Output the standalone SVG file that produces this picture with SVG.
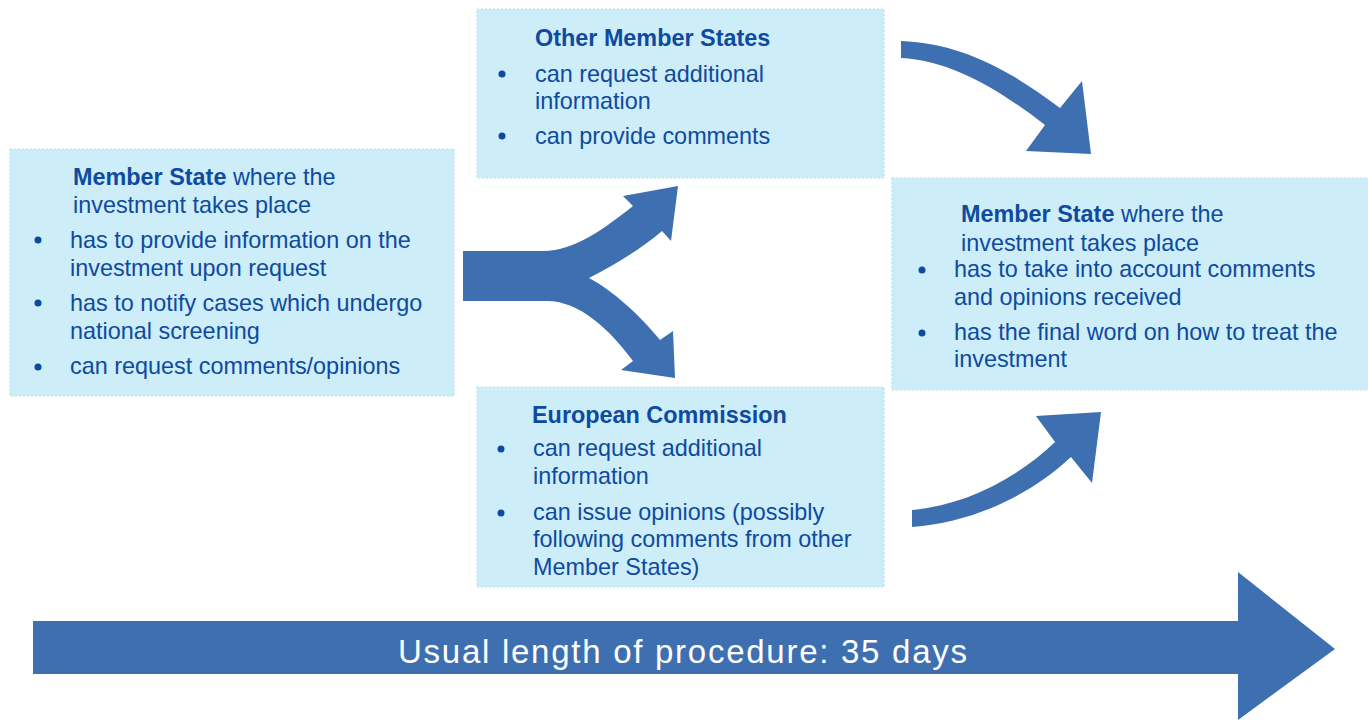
<svg xmlns="http://www.w3.org/2000/svg" width="1368" height="721" viewBox="0 0 1368 721">
<style>
.box{fill:#CDEDF9;stroke:#B5DFF1;stroke-width:1.2;stroke-dasharray:2 2}
.t{font-family:"Liberation Sans",Arial,sans-serif;font-size:23.4px;fill:#0E4AA0}
.b{font-weight:bold}
.dot{fill:#0E4AA0}
.arr{fill:#3D6FB1}
.lbl{font-family:"Liberation Sans",Arial,sans-serif;font-size:33px;fill:#FFFFFF}
</style>
<rect width="1368" height="721" fill="#FFFFFF"/>
<g id="connectors">
<path class="arr" d="M463,251 L543,251 C575,251 605,228 633,206 L623,196 L678,186 L671,241 L662,231 C640,250 612,266 589,278 C612,290 640,315 660,340 L673,331 L675,378 L621,370 L633,361 C610,330 580,301 547,301 L463,301 Z"/>
<path class="arr" d="M901,41 C960,43 1010,70 1060,108 L1082,81 L1091,154 L1026,151 L1045,125 C1000,90 950,60 901,58 Z"/>
<path class="arr" d="M912,510 C965,505 1015,480 1055,442 L1036,416 L1101,412 L1092,483 L1071,457 C1030,495 975,522 912,527 Z"/>
</g>
<g id="timeline">
<path class="arr" d="M33,621 L1238,621 L1238,572 L1335,649 L1238,720 L1238,674 L33,674 Z"/>
<text class="lbl" x="398" y="663" textLength="569" lengthAdjust="spacing">Usual length of procedure: 35 days</text>
</g>
<g id="node-ms-left">
<rect class="box" x="10" y="149" width="444" height="247"/>
<text class="t" x="73" y="185"><tspan class="b">Member State</tspan> where the</text>
<text class="t" x="73" y="213">investment takes place</text>
<circle class="dot" cx="38" cy="240" r="3.5"/>
<text class="t" x="70" y="248">has to provide information on the</text>
<text class="t" x="70" y="276">investment upon request</text>
<circle class="dot" cx="38" cy="303" r="3.5"/>
<text class="t" x="70" y="311">has to notify cases which undergo</text>
<text class="t" x="70" y="339">national screening</text>
<circle class="dot" cx="38" cy="367" r="3.5"/>
<text class="t" x="70" y="374">can request comments/opinions</text>
</g>
<g id="node-other-ms">
<rect class="box" x="477" y="9" width="407" height="169"/>
<text class="t b" x="535" y="46">Other Member States</text>
<circle class="dot" cx="502" cy="74" r="3.5"/>
<text class="t" x="535" y="82">can request additional</text>
<text class="t" x="535" y="109">information</text>
<circle class="dot" cx="502" cy="136" r="3.5"/>
<text class="t" x="535" y="144">can provide comments</text>
</g>
<g id="node-commission">
<rect class="box" x="477" y="387" width="407" height="200"/>
<text class="t b" x="532" y="423">European Commission</text>
<circle class="dot" cx="501" cy="449" r="3.5"/>
<text class="t" x="533" y="456">can request additional</text>
<text class="t" x="533" y="484">information</text>
<circle class="dot" cx="501" cy="513" r="3.5"/>
<text class="t" x="533" y="520">can issue opinions (possibly</text>
<text class="t" x="533" y="547">following comments from other</text>
<text class="t" x="533" y="575">Member States)</text>
</g>
<g id="node-ms-right">
<rect class="box" x="892" y="178" width="477" height="212"/>
<text class="t" x="961" y="222"><tspan class="b">Member State</tspan> where the</text>
<text class="t" x="961" y="251">investment takes place</text>
<circle class="dot" cx="922" cy="270" r="3.5"/>
<text class="t" x="954" y="277">has to take into account comments</text>
<text class="t" x="954" y="305">and opinions received</text>
<circle class="dot" cx="922" cy="333" r="3.5"/>
<text class="t" x="954" y="340">has the final word on how to treat the</text>
<text class="t" x="954" y="367">investment</text>
</g>
</svg>
